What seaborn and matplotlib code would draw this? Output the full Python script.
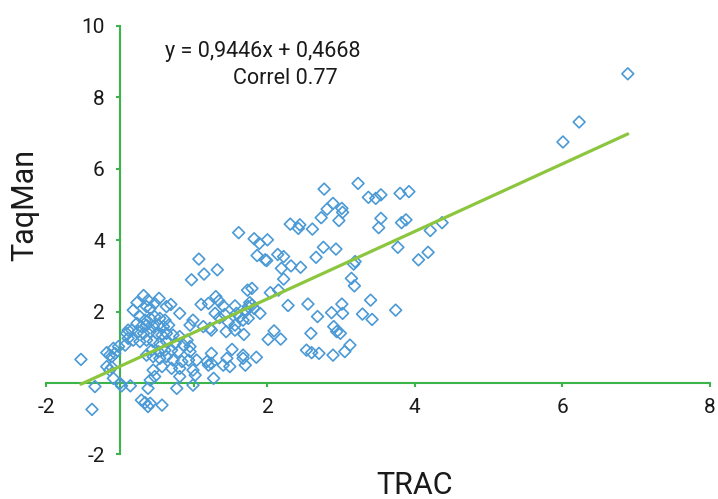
import matplotlib
matplotlib.use("Agg")
import matplotlib.pyplot as plt
import seaborn as sns
import numpy as np

# ---------------- data ----------------
trac = [
    6.89, 6.23, 6.01,
    3.23, 3.37, 3.47, 3.54, 3.80, 3.92, 2.89, 3.01, 3.02, 2.97, 3.54, 3.51, 3.82, 3.88,
    4.21, 4.37, 2.93, 3.77, 4.05, 4.18, 3.17, 3.19, 3.14, 3.18, 3.40, 3.01, 2.87, 3.02,
    3.29, 3.42, 3.74, 2.90, 2.94, 2.99, 3.12, 3.05, 2.89,
    2.77, 2.81, 2.73, 2.31, 2.44, 2.42, 2.61, 1.82, 1.89, 2.00, 2.76, 1.86, 1.97, 1.99,
    2.14, 2.22, 2.66, 2.19, 2.32, 2.45, 2.22, 1.79, 2.15, 2.04, 1.76, 1.82, 1.90, 2.28,
    2.55, 2.68, 2.09, 2.01, 2.18, 2.59, 2.53, 2.60, 2.70, 1.85, 1.61,
    1.07, 0.97, 1.14, 1.32, 1.73, 0.32, 0.53, 0.18, 0.23, 0.36, 0.47, 0.63, 0.69, 0.81,
    1.10, 1.20, 1.30, 1.34, 1.40, 1.29, 1.35, 1.42, 1.56, 1.58, 1.63, 1.74, 1.79, 0.99,
    1.13, 1.22, 1.47, 1.56, 1.44, 1.68, 1.52, 1.24, 1.67, -0.18, -0.09,
    1.70, 1.67, 1.74, 1.24, 1.56, 0.95, 1.04, 1.18, 1.24, 1.20, 1.45, 1.40, 1.49, 1.67,
    1.70, 1.27, 0.99, 0.41, 0.95, 0.38,
    0.27, 0.34, 0.41, 0.47, 0.54, 0.61, 0.23, 0.29, 0.36, 0.45, 0.52, 0.59, 0.66, 0.16,
    0.25, 0.32, 0.41, 0.50, 0.57, 0.63, 0.72, 0.81, 0.09, 0.11, 0.18, 0.27, 0.36, 0.45,
    0.54, 0.63, 0.75, 0.86, 0.95, 0.91, 0.79, 0.70, 0.61, 0.52, 0.43, 0.36, 0.45, 0.54,
    0.63, 0.72, 0.84, 0.93, 0.81, 0.70, 0.57, 0.45, 0.47, 0.41, 0.81, 0.99, 1.02, 0.11,
    0.07,
    -0.07, -0.14, -0.02, -0.11, -0.09, 0.00, 0.02, 0.14, -0.14, -0.18, -0.11, -0.53,
    -0.34, -0.38, 0.29, 0.34, 0.38, 0.41, 0.57, 0.77, 0.38,
]
taqman = [
    8.66, 7.31, 6.75,
    5.59, 5.20, 5.17, 5.27, 5.31, 5.36, 5.03, 4.89, 4.78, 4.55, 4.61, 4.35, 4.49, 4.57,
    4.27, 4.49, 3.75, 3.80, 3.45, 3.66, 3.33, 3.40, 2.93, 2.72, 2.32, 2.21, 1.97, 1.95,
    1.93, 1.78, 2.04, 1.58, 1.44, 1.39, 1.06, 0.88, 0.78,
    5.43, 4.87, 4.63, 4.45, 4.43, 4.33, 4.31, 4.04, 3.91, 4.01, 3.80, 3.57, 3.45, 3.43,
    3.60, 3.54, 3.52, 3.21, 3.28, 3.24, 2.91, 2.65, 2.60, 2.53, 2.25, 2.09, 1.95, 2.17,
    2.21, 1.86, 1.46, 1.22, 1.23, 1.39, 0.92, 0.85, 0.83, 0.72, 4.21,
    3.47, 2.89, 3.05, 3.17, 2.60, 2.45, 2.37, 2.04, 2.25, 2.14, 2.23, 2.14, 2.20, 1.95,
    2.20, 2.23, 2.42, 2.30, 2.16, 1.95, 1.83, 1.92, 2.16, 1.95, 1.86, 2.14, 2.18, 1.76,
    1.58, 1.53, 1.70, 1.48, 1.44, 1.36, 0.94, 0.83, 0.78, 0.85, 0.97,
    2.00, 1.76, 1.81, 1.48, 1.62, 0.88, 0.64, 0.60, 0.55, 0.50, 0.69, 0.50, 0.46, 0.69,
    0.50, 0.13, -0.06, 2.09, 1.62, 2.32,
    1.86, 1.76, 1.81, 1.86, 1.81, 1.76, 1.67, 1.58, 1.62, 1.58, 1.62, 1.58, 1.62, 1.48,
    1.44, 1.39, 1.44, 1.39, 1.34, 1.39, 1.34, 1.30, 1.39, 1.25, 1.20, 1.16, 1.20, 1.16,
    1.11, 1.16, 1.11, 1.06, 1.02, 1.20, 0.88, 0.92, 0.92, 0.88, 0.92, 0.78, 0.74, 0.69,
    0.74, 0.64, 0.60, 0.64, 0.41, 0.41, 0.46, 0.36, 0.18, 0.08, 0.18, 0.36, 0.22, 1.48,
    1.06,
    0.83, 0.78, 1.02, 0.74, 0.13, -0.01, -0.08, -0.08, 0.36, 0.46, 0.44, 0.66,
    -0.10, -0.74, -0.48, -0.55, -0.66, -0.57, -0.62, -0.15, -0.15,
]
slope = 0.9446
intercept = 0.4668
correl = "0.77"
x_ticks = [-1, 1, 2, 4, 6, 8]
x_tick_labels = ["-2", "", "2", "4", "6", "8"]
y_ticks = [-2, 2, 4, 6, 8, 10]
y_tick_labels = ["-2", "2", "4", "6", "8", "10"]
x_label = "TRAC"
y_label = "TaqMan"

# ---------------- styling ----------------
sns.set_theme(style="white")
plt.rcParams["font.family"] = ["Roboto", "DejaVu Sans"]

AXIS_GREEN = "#3bb54a"
TREND_GREEN = "#8cc63f"
MARKER_BLUE = "#4b9ad6"
TEXT = "#1a1a1a"

fig = plt.figure(figsize=(7.18, 4.99), dpi=100)
ax = fig.add_axes([0.0645, 0.0894, 0.9238, 0.8586])

sns.scatterplot(x=trac, y=taqman, ax=ax, marker="D", s=36,
                facecolors="none", edgecolor=MARKER_BLUE, linewidth=1.2,
                legend=False, zorder=3)

x_line = [min(trac), max(trac)]
y_line = [slope * v + intercept for v in x_line]
sns.lineplot(x=x_line, y=y_line, ax=ax, color=TREND_GREEN, linewidth=2.3, zorder=4)

ax.set_xlim(-1, 8)
ax.set_ylim(-2, 10)

for side in ["top", "right"]:
    ax.spines[side].set_visible(False)
ax.spines["left"].set_position(("data", 0))
ax.spines["bottom"].set_position(("data", 0))
for side in ["left", "bottom"]:
    ax.spines[side].set_color(AXIS_GREEN)
    ax.spines[side].set_linewidth(1.5)
    ax.spines[side].set_zorder(2)

ax.set_xticks(x_ticks)
ax.set_xticklabels(x_tick_labels)
ax.set_yticks(y_ticks)
ax.set_yticklabels(y_tick_labels)
ax.tick_params(axis="both", which="major", direction="out", length=3, width=1.5,
               color=AXIS_GREEN, labelsize=15, labelcolor=TEXT, pad=8)
ax.tick_params(axis="x", bottom=True, left=False)
ax.tick_params(axis="y", left=True, bottom=False)
ax.grid(False)
ax.set_xlabel("")
ax.set_ylabel("")

fig.text(25 / 718, 1 - 205 / 499, y_label, rotation=90, ha="center", va="center",
         fontsize=22, color=TEXT)
fig.text(415 / 718, 1 - 485 / 499, x_label, ha="center", va="center",
         fontsize=22, color=TEXT)

fig.text(263 / 718, 1 - 52 / 499, f"y = {slope:.4f}x + {intercept:.4f}".replace(".", ","),
         ha="center", va="center", fontsize=15.5, color=TEXT)
fig.text(285 / 718, 1 - 79 / 499, f"Correl {correl}", ha="center", va="center",
         fontsize=15.5, color=TEXT)

fig.savefig("out.png", dpi=100)
